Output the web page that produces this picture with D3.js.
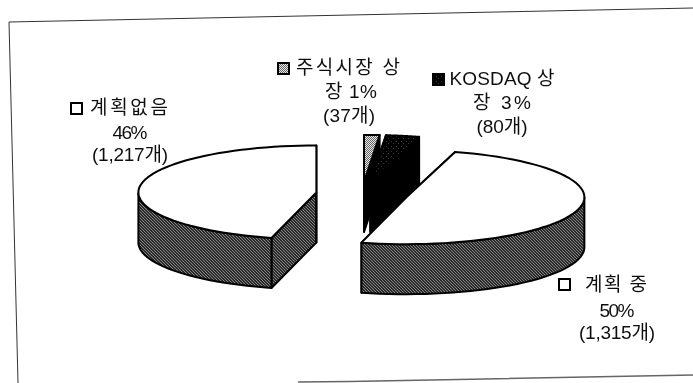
<!DOCTYPE html>
<html><head><meta charset="utf-8">
<script src="https://cdnjs.cloudflare.com/ajax/libs/d3/7.8.5/d3.min.js"></script>
<style>html,body{margin:0;padding:0;background:#fff}svg{display:block}
text{font-family:"Liberation Sans","Noto Sans CJK KR",sans-serif;font-size:19px;fill:#111;text-anchor:middle}</style>
</head><body><svg id="c" width="693" height="383"></svg>
<script>
const categories = ["주식시장 상장", "KOSDAQ 상장", "계획 중", "계획없음"];
const counts = [37, 80, 1315, 1217];
const labelLines = [
  ["주식시장 상", "장 1%", "(37개)"],
  ["KOSDAQ 상", "장 3%", "(80개)"],
  ["계획 중", "50%", "(1,315개)"],
  ["계획없음", "46%", "(1,217개)"]
];

const svg = d3.select("#c");
const cx = 362, cy = 194, R = 178, tilt = 0.264, depth = 50, explode = 46;
const fillTop = ["url(#light)", "url(#speck)", "#fff", "#fff"];
const fillWall = ["#000", "#000", "url(#dark)", "url(#dark)"];

const defs = svg.append("defs");
defs.append("filter").attr("id","soft").attr("x",0).attr("y",0).attr("width",1).attr("height",1)
  .append("feGaussianBlur").attr("stdDeviation",0.35);
const dark = defs.append("pattern").attr("id","dark").attr("width",3).attr("height",3).attr("patternUnits","userSpaceOnUse");
dark.append("rect").attr("width",3).attr("height",3).attr("fill","#2c2c2c");
dark.append("path").attr("d","M0 0h1v1h-1zM1 1h1v1h-1zM2 2h1v1h-1z").attr("fill","#858585");
const light = defs.append("pattern").attr("id","light").attr("width",2).attr("height",2).attr("patternUnits","userSpaceOnUse");
light.append("rect").attr("width",2).attr("height",2).attr("fill","#e8e8e8");
light.append("path").attr("d","M0 0h1v1h-1zM1 1h1v1h-1z").attr("fill","#666");
const speck = defs.append("pattern").attr("id","speck").attr("width",5).attr("height",5).attr("patternUnits","userSpaceOnUse");
speck.append("rect").attr("width",5).attr("height",5).attr("fill","#050505");
speck.append("path").attr("d","M1 1h1v1h-1zM3 3h1v1h-1z").attr("fill","#3a3a3a");

const root = svg.append("g").attr("filter","url(#soft)");
root.append("rect").attr("width",693).attr("height",383).attr("fill","#fff");

// frame of the scanned page
const frame = d3.line();
root.append("path").attr("d", frame([[18,383],[9,22],[693,8]])).attr("fill","none").attr("stroke","#333").attr("stroke-width",1);
root.append("path").attr("d", frame([[298,382],[350,381.6],[693,375]])).attr("fill","none").attr("stroke","#666").attr("stroke-width",1.5);

const arcs = d3.pie().sort(null).value(d => d)(counts);
const sx = a => Math.sin(a) * R, sy = a => -Math.cos(a) * R * tilt;

function slice(d, i) {
  const mid = (d.startAngle + d.endAngle) / 2;
  const ox = cx + Math.sin(mid) * explode, oy = cy - Math.cos(mid) * explode * tilt;
  const pt = (a, z = 0) => [ox + sx(a), oy + sy(a) + z];
  const angles = d3.range(0, 61).map(k => d.startAngle + (d.endAngle - d.startAngle) * k / 60);
  const g = root.append("g").attr("stroke","#000").attr("stroke-width",2).attr("stroke-linejoin","round");
  const line = d3.line();
  const wall = pts => g.append("path").attr("d", line(pts) + "Z").attr("fill", fillWall[i]);
  const c0 = [ox, oy], c1 = [ox, oy + depth];
  wall([c0, pt(d.startAngle), pt(d.startAngle, depth), c1]);
  wall([c0, pt(d.endAngle), pt(d.endAngle, depth), c1]);
  const front = angles.filter(a => Math.cos(a) < 0);
  if (front.length) wall(front.map(a => pt(a)).concat(front.slice().reverse().map(a => pt(a, depth))));
  g.append("path").attr("d", line([c0].concat(angles.map(a => pt(a)))) + "Z").attr("fill", fillTop[i]);
}
[0, 1, 3, 2].forEach(i => slice(arcs[i], i));

// labels: centre x, baseline and run width of each line
const labelX = [[348,351,349],[502,502,502],[616,617,617],[129,130,130]];
const labelY = [[74,98,122],[85,109,133],[291,317,339],[114,139,161]];
const labelW = [[104,52,52],[105,58,51],[62,35,76],[78,35,76]];
const swatchAt = [[278,63],[433,74],[559,279],[71,103]];
const swatchFill = ["url(#light)", "url(#speck)", "#fff", "#fff"];
counts.forEach((_, i) => {
  labelLines[i].forEach((s, k) => {
    root.append("text").attr("x", labelX[i][k]).attr("y", labelY[i][k])
      .attr("textLength", labelW[i][k]).attr("lengthAdjust","spacing").text(s);
  });
  root.append("rect").attr("x", swatchAt[i][0]).attr("y", swatchAt[i][1]).attr("width",11).attr("height",11)
    .attr("fill", swatchFill[i]).attr("stroke","#000").attr("stroke-width",2);
});
</script></body></html>
